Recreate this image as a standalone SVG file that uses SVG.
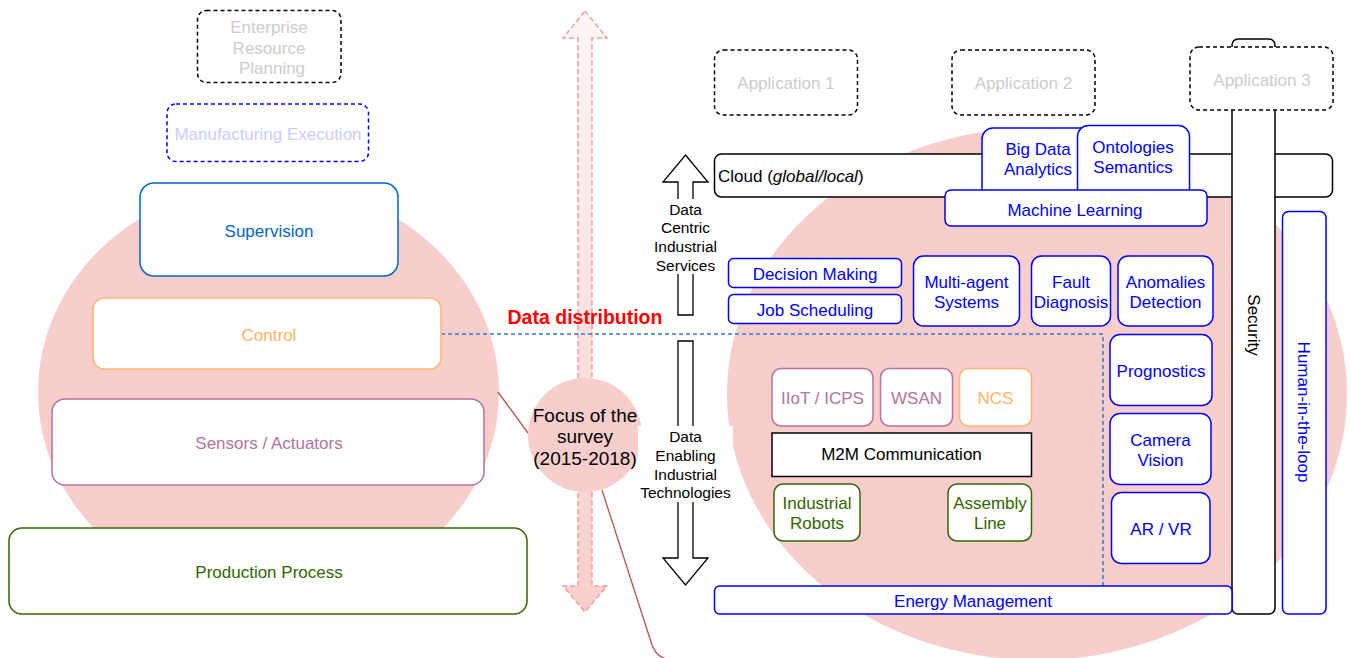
<svg xmlns="http://www.w3.org/2000/svg" width="1351" height="658" viewBox="0 0 1351 658">
  <defs>
    <linearGradient id="shaftFill" x1="0" y1="0" x2="0" y2="1">
      <stop offset="0" stop-color="#fff6f6"/>
      <stop offset="1" stop-color="#f8cecc"/>
    </linearGradient>
  </defs>
  <style>
    text { font-family: 'Liberation Sans', Arial, Helvetica, sans-serif; font-size: 17px; text-anchor: middle; }
    .box { fill: #ffffff; stroke-width: 1.5; }
    .dash { stroke-dasharray: 4 3; }
    .blue { stroke: #0000ff; }
    .blk { stroke: #000000; }
    .purple { stroke: #b5739d; }
    .orange { stroke: #ffb570; }
    .green { stroke: #336600; }
    .tblue { fill: #0000ff; }
    .tgray { fill: #cccccc; }
    .tpurple { fill: #b5739d; }
    .torange { fill: #ffb366; }
    .tgreen { fill: #336600; }
    .small { font-size: 15.5px; }
    .focus { font-size: 19px; }
    .blob { fill: #f8cecc; }
    .bigarrow { fill: #ffffff; stroke: #000000; stroke-width: 1.3; }
  </style>

  <!-- background scopes -->
  <ellipse id="scope-left" class="blob" cx="268.5" cy="392" rx="230.5" ry="209"/>
  <ellipse id="scope-right" class="blob" cx="1037" cy="394" rx="310" ry="266"/>

  <!-- vertical data distribution arrow -->
  <g id="span-arrow">
    <path d="M585,11 L607,38 L592,38 L592,586 L607,586 L585,612 L563,586 L578,586 L578,38 L563,38 Z" fill="url(#shaftFill)" stroke="#f59a9a" stroke-width="1.5" stroke-dasharray="5 3"/>
  </g>

  <!-- connectors -->
  <g id="connectors" fill="none">
    <path d="M498,392 L528,433" stroke="#b85450" stroke-width="1.3"/>
    <path d="M602,490 L652,645 Q656,656 666,659" stroke="#b85450" stroke-width="1.3"/>
    <path d="M441,334 L1103,334 L1103,586" stroke="#2f78d4" stroke-width="1.5" stroke-dasharray="4 3"/>
    <text x="585" y="323.5" style="font-size:19.5px;font-weight:bold;fill:#ff0000">Data distribution</text>
  </g>

  <g id="focus">
    <circle cx="585" cy="435" r="57" class="blob"/>
    <text x="585" y="421.5" class="focus">Focus of the</text>
    <text x="585" y="443" class="focus">survey</text>
    <text x="585" y="464.5" class="focus">(2015-2018)</text>
  </g>

  <!-- automation pyramid -->
  <g id="erp">
    <rect x="197.5" y="10.5" width="143.5" height="72" rx="9" class="box blk dash"/>
    <text x="269" y="33" class="tgray">Enterprise</text>
    <text x="269" y="53.5" class="tgray">Resource</text>
    <text x="272" y="74" class="tgray">Planning</text>
  </g>
  <g id="mes">
    <rect x="167" y="104" width="201.5" height="57.5" rx="9" class="box blue dash"/>
    <text x="268" y="139.5" style="fill:#ccccff">Manufacturing Execution</text>
  </g>
  <g id="supervision">
    <rect x="140" y="183" width="258" height="93" rx="14" class="box" stroke="#0066cc"/>
    <text x="269" y="237" style="fill:#0066cc">Supervision</text>
  </g>
  <g id="control">
    <rect x="93" y="298" width="348" height="71" rx="11" class="box orange"/>
    <text x="269" y="341" class="torange">Control</text>
  </g>
  <g id="sensors">
    <rect x="52" y="399" width="432" height="86" rx="13" class="box purple"/>
    <text x="269" y="449" class="tpurple">Sensors / Actuators</text>
  </g>
  <g id="production">
    <rect x="9" y="528" width="518" height="86" rx="13" class="box green"/>
    <text x="269" y="578" class="tgreen">Production Process</text>
  </g>

  <!-- service / technology arrows -->
  <g id="services-arrow">
    <path d="M685.5,155 L708,182 L693,182 L693,315 L678,315 L678,182 L663,182 Z" class="bigarrow"/>
    <rect x="650" y="199" width="71" height="75" fill="#ffffff"/>
    <text x="685.5" y="214.5" class="small">Data</text>
    <text x="685.5" y="233" class="small">Centric</text>
    <text x="685.5" y="251.8" class="small">Industrial</text>
    <text x="685.5" y="270.5" class="small">Services</text>
  </g>
  <g id="technologies-arrow">
    <path d="M678,341 L693,341 L693,558 L708,558 L685.5,585 L663,558 L678,558 Z" class="bigarrow"/>
    <rect x="638" y="426" width="95" height="76" fill="#ffffff"/>
    <text x="685.5" y="441.5" class="small">Data</text>
    <text x="685.5" y="461" class="small">Enabling</text>
    <text x="685.5" y="479.5" class="small">Industrial</text>
    <text x="685.5" y="498" class="small">Technologies</text>
  </g>

  <!-- applications -->
  <g id="app1">
    <rect x="714.5" y="50" width="143" height="65" rx="9" class="box blk dash"/>
    <text x="786" y="89" class="tgray">Application 1</text>
  </g>
  <g id="app2">
    <rect x="952" y="50" width="143" height="65" rx="9" class="box blk dash"/>
    <text x="1023.5" y="89" class="tgray">Application 2</text>
  </g>

  <!-- cloud layer -->
  <g id="cloud">
    <rect x="714.5" y="154" width="618" height="43" rx="7" class="box blk"/>
    <text x="718" y="182" style="text-anchor:start">Cloud (<tspan font-style="italic">global/local</tspan>)</text>
  </g>
  <g id="big-data">
    <rect x="982" y="128" width="110" height="72" rx="11" class="box blue"/>
    <text x="1038" y="155" class="tblue">Big Data</text>
    <text x="1038" y="175" class="tblue">Analytics</text>
  </g>
  <g id="ontologies">
    <rect x="1077.5" y="125.5" width="112" height="75" rx="11" class="box blue"/>
    <text x="1133" y="152.5" class="tblue">Ontologies</text>
    <text x="1133" y="172.5" class="tblue">Semantics</text>
  </g>
  <g id="machine-learning">
    <rect x="945" y="190" width="262" height="36" rx="6" class="box blue"/>
    <text x="1075" y="216" class="tblue">Machine Learning</text>
  </g>

  <!-- cross-cutting concerns -->
  <g id="security">
    <rect x="1232" y="39" width="43" height="575" rx="6" class="box blk"/>
    <text transform="translate(1254,325) rotate(90)" y="6">Security</text>
  </g>
  <g id="app3">
    <rect x="1190" y="47" width="143" height="63" rx="9" class="box blk dash"/>
    <text x="1262" y="86" class="tgray">Application 3</text>
  </g>
  <g id="human-in-the-loop">
    <rect x="1282.5" y="211.5" width="43.5" height="402.5" rx="6" class="box blue"/>
    <text transform="translate(1304,412) rotate(90)" y="6" class="tblue">Human-in-the-loop</text>
  </g>

  <!-- data centric services -->
  <g id="decision-making">
    <rect x="728.5" y="258.5" width="173" height="29" rx="5" class="box blue"/>
    <text x="815" y="280" class="tblue">Decision Making</text>
  </g>
  <g id="job-scheduling">
    <rect x="728.5" y="294.5" width="173" height="29" rx="5" class="box blue"/>
    <text x="815" y="316" class="tblue">Job Scheduling</text>
  </g>
  <g id="multi-agent">
    <rect x="913.5" y="256" width="106" height="70" rx="10" class="box blue"/>
    <text x="966.5" y="288" class="tblue">Multi-agent</text>
    <text x="966.5" y="308" class="tblue">Systems</text>
  </g>
  <g id="fault-diagnosis">
    <rect x="1031.5" y="256" width="79" height="70" rx="10" class="box blue"/>
    <text x="1071" y="288" class="tblue">Fault</text>
    <text x="1071" y="308" class="tblue">Diagnosis</text>
  </g>
  <g id="anomalies">
    <rect x="1118" y="256" width="95" height="70" rx="10" class="box blue"/>
    <text x="1165.5" y="288" class="tblue">Anomalies</text>
    <text x="1165.5" y="308" class="tblue">Detection</text>
  </g>
  <g id="prognostics">
    <rect x="1110" y="334.5" width="102" height="71" rx="10" class="box blue"/>
    <text x="1161" y="377" class="tblue">Prognostics</text>
  </g>
  <g id="camera-vision">
    <rect x="1110" y="413.5" width="101" height="71" rx="10" class="box blue"/>
    <text x="1160.5" y="446" class="tblue">Camera</text>
    <text x="1160.5" y="466" class="tblue">Vision</text>
  </g>
  <g id="ar-vr">
    <rect x="1111.5" y="492.5" width="98.5" height="71" rx="10" class="box blue"/>
    <text x="1161" y="535" class="tblue">AR / VR</text>
  </g>

  <!-- data enabling technologies -->
  <g id="iiot">
    <rect x="772" y="368.5" width="101" height="57.5" rx="9" class="box purple"/>
    <text x="822.5" y="404" class="tpurple">IIoT / ICPS</text>
  </g>
  <g id="wsan">
    <rect x="880.5" y="368.5" width="72" height="57.5" rx="9" class="box purple"/>
    <text x="916.5" y="404" class="tpurple">WSAN</text>
  </g>
  <g id="ncs">
    <rect x="959.5" y="368.5" width="72" height="57.5" rx="9" class="box orange"/>
    <text x="995.5" y="404" class="torange">NCS</text>
  </g>
  <g id="m2m">
    <rect x="772" y="433" width="259.5" height="43.5" class="box blk"/>
    <text x="901.5" y="460">M2M Communication</text>
  </g>
  <g id="industrial-robots">
    <rect x="774" y="484" width="86" height="57" rx="9" class="box green"/>
    <text x="817" y="509" class="tgreen">Industrial</text>
    <text x="817" y="529" class="tgreen">Robots</text>
  </g>
  <g id="assembly-line">
    <rect x="948" y="484" width="83.5" height="57" rx="9" class="box green"/>
    <text x="990" y="509" class="tgreen">Assembly</text>
    <text x="990" y="529" class="tgreen">Line</text>
  </g>
  <g id="energy-management">
    <rect x="714.5" y="586" width="517.5" height="28" rx="5" class="box blue"/>
    <text x="973" y="607" class="tblue">Energy Management</text>
  </g>
</svg>
